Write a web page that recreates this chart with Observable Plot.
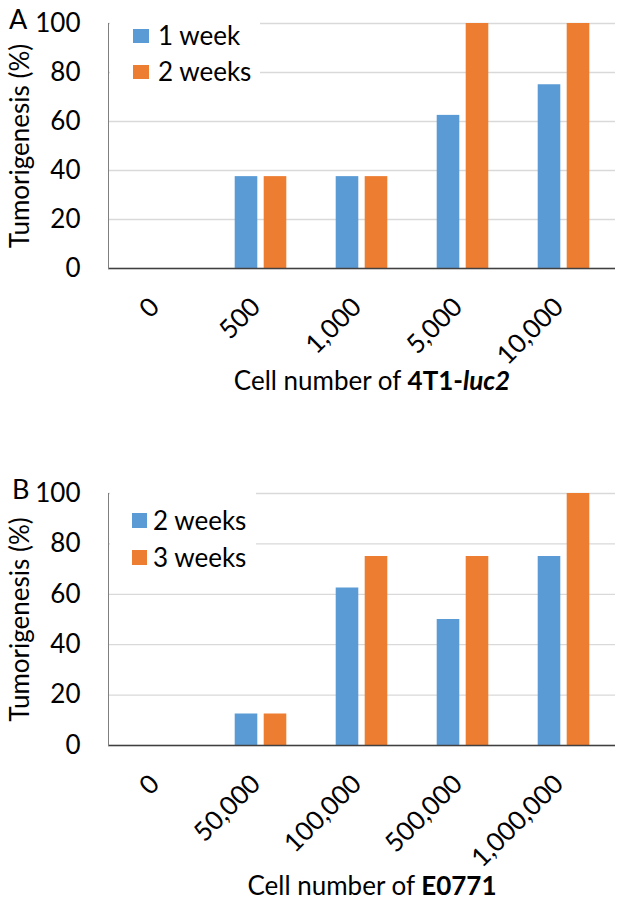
<!DOCTYPE html>
<html><head><meta charset="utf-8">
<script src="https://cdn.jsdelivr.net/npm/d3@7"></script>
<script src="https://cdn.jsdelivr.net/npm/@observablehq/plot@0.6"></script>
<style>
body{margin:0;background:#fff;}
#wrap{position:relative;width:624px;height:901px;overflow:hidden;font-family:Lato,sans-serif;background:#fff;}
.panel{position:absolute;left:0;}
#overlay{position:absolute;left:0;top:0;pointer-events:none;}
</style></head><body><div id="wrap"></div>
<script>
// ---- data ----
const catsA = ["0", "500", "1,000", "5,000", "10,000"];
const seriesA = ["1 week", "2 weeks"];
const week1A = [0, 37.5, 37.5, 62.5, 75];
const week2A = [0, 37.5, 37.5, 100, 100];

const catsB = ["0", "50,000", "100,000", "500,000", "1,000,000"];
const seriesB = ["2 weeks", "3 weeks"];
const week2B = [0, 12.5, 62.5, 50, 75];
const week3B = [0, 12.5, 75, 75, 100];

const yTicks = [0, 20, 40, 60, 80, 100];
const yLabel = "Tumorigenesis (%)";
const colors = ["#5B9BD5", "#ED7D31"];

// ---- layout ----
const W = 624, ML = 108, MR = 9, MT = 23;
const FONT = "Lato, sans-serif";
const FS = 26;

function panel(cats, s1, s2, height, plotH) {
  const rows = cats.map((c, i) => ({cat: c, a: s1[i], b: s2[i]}));
  const band = (W - ML - MR) / cats.length;
  const bw = 23, gap = 6;
  const inA = band / 2 - gap / 2 - bw;
  const inB = band - inA - bw;
  return Plot.plot({
    width: W, height,
    marginLeft: ML, marginRight: MR, marginTop: MT, marginBottom: height - MT - plotH,
    style: {fontFamily: FONT, fontSize: FS + "px", color: "#000", background: "transparent"},
    x: {domain: cats, paddingInner: 0, paddingOuter: 0},
    y: {domain: [0, 100]},
    marks: [
      Plot.gridY(yTicks, {stroke: "#d9d9d9", strokeOpacity: 1, strokeWidth: 1.3}),
      Plot.barY(rows, {x: "cat", y: "a", fill: colors[0], insetLeft: inA, insetRight: inB}),
      Plot.barY(rows, {x: "cat", y: "b", fill: colors[1], insetLeft: inB, insetRight: inA}),
      Plot.ruleY([0], {stroke: "#404040", strokeWidth: 1.5}),
      Plot.frame({anchor: "left", stroke: "#7f7f7f", strokeWidth: 1}),
      Plot.axisY(yTicks, {tickSize: 0, tickPadding: 28, fontSize: FS, label: yLabel, labelAnchor: "center", labelOffset: 98, labelArrow: "none"}),
      Plot.axisX({tickSize: 0, tickPadding: 40, tickRotate: -45, textAnchor: "end", lineAnchor: "bottom", dx: 1, fontSize: FS, label: null})
    ]
  });
}

const wrap = document.getElementById("wrap");
const pA = panel(catsA, week1A, week2A, 400, 245);
pA.classList.add("panel"); pA.style.top = "0px";
wrap.appendChild(pA);
const pB = panel(catsB, week2B, week3B, 431, 252);
pB.classList.add("panel"); pB.style.top = "470px";
wrap.appendChild(pB);

// ---- overlay: panel letters, axis titles, legends ----
const svg = d3.select(wrap).append("svg").attr("id", "overlay")
  .attr("width", W).attr("height", 901)
  .style("font-family", FONT).style("font-size", FS + "px");

function legend(series, x, y, w, h, sx, sy0, step, sw, sh, tx) {
  const g = svg.append("g");
  g.append("rect").attr("x", x).attr("y", y).attr("width", w).attr("height", h).attr("fill", "#fff");
  series.forEach((s, i) => {
    const cy = sy0 + i * step;
    g.append("rect").attr("x", sx).attr("y", cy - sh / 2).attr("width", sw).attr("height", sh).attr("fill", colors[i]);
    g.append("text").attr("x", tx).attr("y", cy).attr("dy", "0.36em").attr("fill", "#000").text(s);
  });
}
legend(seriesA, 110, 17, 150, 74, 133, 36, 36, 16, 14, 158);
legend(seriesB, 110, 487, 146, 92, 132, 520.5, 37, 15, 15, 153);

svg.append("text").attr("x", 9).attr("y", 29).attr("fill", "#000").attr("font-size", "27px").text("A");
svg.append("text").attr("x", 12).attr("y", 499).attr("fill", "#000").attr("font-size", "27px").text("B");

const tA = svg.append("text").attr("x", 372).attr("y", 390).attr("text-anchor", "middle").attr("fill", "#000");
tA.append("tspan").text("Cell number of ");
tA.append("tspan").attr("font-weight", "bold").text("4T1-");
tA.append("tspan").attr("font-weight", "bold").attr("font-style", "italic").text("luc2");

const tB = svg.append("text").attr("x", 372).attr("y", 895).attr("text-anchor", "middle").attr("fill", "#000");
tB.append("tspan").text("Cell number of ");
tB.append("tspan").attr("font-weight", "bold").text("E0771");
</script></body></html>
